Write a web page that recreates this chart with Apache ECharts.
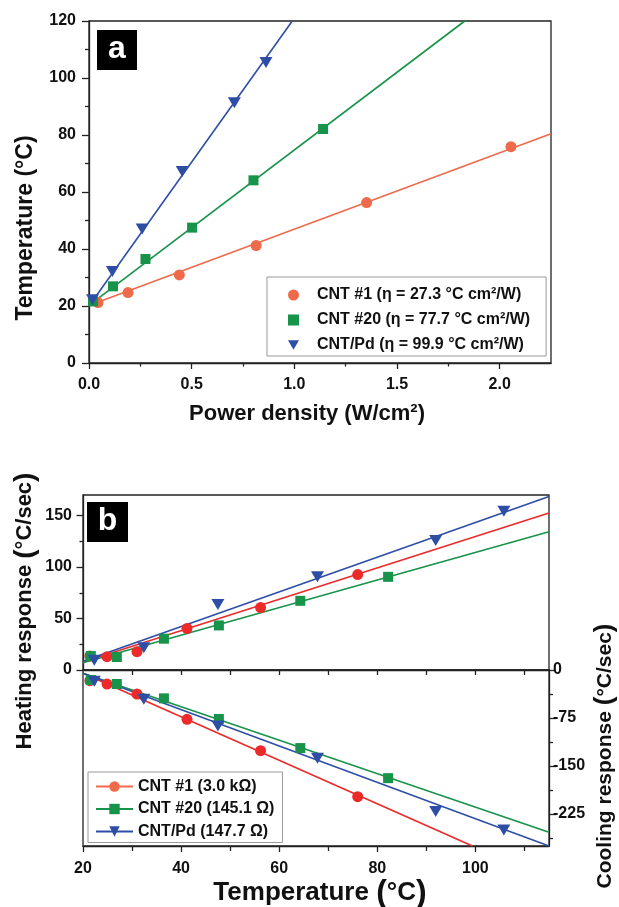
<!DOCTYPE html>
<html><head><meta charset="utf-8">
<script src="https://cdn.jsdelivr.net/npm/echarts@6/dist/echarts.min.js"></script>
<style>html,body{margin:0;padding:0;background:#fff}#c{width:619px;height:907px}</style>
</head><body><div id="c"></div>
<script>
// ---------- Panel a data ----------
const namesA = ['CNT #1 (\u03b7 = 27.3 \u00b0C cm\u00b2/W)', 'CNT #20 (\u03b7 = 77.7 \u00b0C cm\u00b2/W)', 'CNT/Pd (\u03b7 = 99.9 \u00b0C cm\u00b2/W)'];
const powerCNT1 = [0.044, 0.19, 0.44, 0.814, 1.352, 2.055];
const tempCNT1 = [21.2, 24.7, 30.9, 41.2, 56.3, 75.9];
const powerCNT20 = [0.02, 0.117, 0.275, 0.502, 0.801, 1.140];
const tempCNT20 = [21.6, 26.9, 36.5, 47.5, 64.1, 82.1];
const powerPd = [0.017, 0.114, 0.259, 0.454, 0.708, 0.862];
const tempPd = [22.2, 32.1, 47.0, 67.2, 91.3, 105.4];
// fit lines (end points)
const fitA1x = [0, 2.25], fitA1y = [20.2, 80.4];
const fitA20x = [0, 1.83], fitA20y = [20.2, 120];
const fitAPdx = [0, 0.99], fitAPdy = [20, 120];
const aXMajor = [0, 0.5, 1.0, 1.5, 2.0];
const aXMinor = [0.25, 0.75, 1.25, 1.75];
const aYMajor = [0, 20, 40, 60, 80, 100, 120];
const aYMinor = [10, 30, 50, 70, 90, 110];

// ---------- Panel b data ----------
const namesB = ['CNT #1 (3.0 k\u03a9)', 'CNT #20 (145.1 \u03a9)', 'CNT/Pd (147.7 \u03a9)'];
const bTemp1 = [21.4, 24.9, 31.0, 41.2, 56.2, 76.0];
const bTemp20 = [21.6, 26.9, 36.5, 47.7, 64.3, 82.2];
const bTempPd = [22.3, 32.4, 47.5, 67.8, 91.9, 105.8];
const heat1 = [13.6, 12.9, 17.8, 40.4, 60.7, 92.7];
const heat20 = [13.5, 12.6, 30.4, 43.3, 67.2, 90.5];
const heatPd = [9.5, 21.6, 63.6, 90.5, 125.7, 154.1];
const cool1 = [-16.7, -21.9, -37.5, -77, -126, -198];
const cool20 = [-15.6, -21.9, -44.3, -76.6, -122, -169];
const coolPd = [-17.5, -45.8, -87.5, -138, -221, -250];
const fitH1x = [20, 115], fitH1y = [7.8, 152.5];
const fitH20x = [20, 115], fitH20y = [7.1, 134.4];
const fitHPdx = [20, 115], fitHPdy = [8.4, 168.6];
const fitC1x = [20, 99.4], fitC1y = [-5.2, -275];
const fitC20x = [20, 115], fitC20y = [-5.2, -253.6];
const fitCPdx = [20, 115], fitCPdy = [-5, -275];
const bXMajor = [20, 40, 60, 80, 100];
const bXMinor = [30, 50, 70, 90, 110];
const bXMid = [30, 40, 50, 60, 70, 80, 90, 100, 110];
const bHMajor = [0, 50, 100, 150];
const bHMinor = [25, 75, 125];
const bCMajor = [0, -75, -150, -225];
const bCMinor = [-37.5, -112.5, -187.5, -262.5];

// ---------- styling ----------
const FONT = '"Liberation Sans", Arial, Helvetica, sans-serif';
const AX = '#222';
const cA = ['#EF6A4A', '#17934A', '#2E4EA6'];
const cB = ['#EC2A2A', '#17934A', '#2E4EA6'];
const triDown = 'path://M0,0L10,0L5,8.66Z';
const syms = ['circle', 'rect', triDown];
const symSizes = [11, 10, [13, 11]];

const pairs = (xs, ys) => xs.map((x, i) => [x, ys[i]]);
const lbl = (extra) => Object.assign({fontSize: 16, fontWeight: 'bold', fontFamily: FONT, color: '#111'}, extra);
const line = {show: true, onZero: false, lineStyle: {color: AX, width: 1.3}};
const noLine = {show: false, onZero: false};
const tick = (vals, len) => ({show: true, customValues: vals, length: len, lineStyle: {color: AX, width: 1.3}});

function mainAxis(o) {
  return Object.assign({type: 'value', splitLine: {show: false}, axisLine: line}, o);
}
function minorAxis(o, vals, len) {
  return Object.assign({type: 'value', splitLine: {show: false}, axisLine: noLine,
    axisLabel: {show: false}, axisTick: tick(vals, len)}, o);
}

const xAxis = [
  mainAxis({gridIndex: 0, min: 0, max: 2.25, position: 'bottom',
    axisTick: tick(aXMajor, 6),
    axisLabel: lbl({customValues: aXMajor, margin: 14, formatter: v => v.toFixed(1)})}),
  minorAxis({gridIndex: 0, min: 0, max: 2.25, position: 'bottom'}, aXMinor, 3.5),
  mainAxis({gridIndex: 1, min: 20, max: 115, position: 'bottom',
    axisTick: tick(bXMid, 5), axisLabel: {show: false}}),
  mainAxis({gridIndex: 2, min: 20, max: 115, position: 'bottom',
    axisTick: tick(bXMajor, 6),
    axisLabel: lbl({customValues: bXMajor, margin: 15})}),
  minorAxis({gridIndex: 2, min: 20, max: 115, position: 'bottom'}, bXMinor, 5)
];

const yAxis = [
  mainAxis({gridIndex: 0, min: 0, max: 120, position: 'left',
    axisTick: tick(aYMajor, 7),
    axisLabel: lbl({customValues: aYMajor, margin: 13})}),
  minorAxis({gridIndex: 0, min: 0, max: 120, position: 'left'}, aYMinor, 4),
  mainAxis({gridIndex: 1, min: 0, max: 170, position: 'left',
    axisTick: tick(bHMajor, 6.5),
    axisLabel: lbl({customValues: bHMajor, margin: 11})}),
  minorAxis({gridIndex: 1, min: 0, max: 170, position: 'left'}, bHMinor, 3.5),
  mainAxis({gridIndex: 2, min: -275, max: 0, position: 'right',
    axisTick: tick(bCMajor, 7),
    axisLabel: lbl({customValues: bCMajor, margin: 4})}),
  minorAxis({gridIndex: 2, min: -275, max: 0, position: 'right'}, bCMinor, 4)
];

const series = [];
function fit(name, xs, ys, color, xi, yi) {
  series.push({type: 'line', name: name, data: pairs(xs, ys), xAxisIndex: xi, yAxisIndex: yi,
    symbol: 'none', silent: true, z: 2, lineStyle: {color: color, width: 1.6}});
}
function pts(name, xs, ys, k, color, xi, yi) {
  series.push({type: 'scatter', name: name, data: pairs(xs, ys), xAxisIndex: xi, yAxisIndex: yi,
    symbol: syms[k], symbolSize: symSizes[k], z: 3, itemStyle: {color: color, opacity: 1}});
}
// Panel a
fit('fitA1', fitA1x, fitA1y, cA[0], 0, 0);
fit('fitA20', fitA20x, fitA20y, cA[1], 0, 0);
fit('fitAPd', fitAPdx, fitAPdy, cA[2], 0, 0);
pts(namesA[0], powerCNT1, tempCNT1, 0, cA[0], 0, 0);
pts(namesA[1], powerCNT20, tempCNT20, 1, cA[1], 0, 0);
pts(namesA[2], powerPd, tempPd, 2, cA[2], 0, 0);
// Panel b heating
fit('fitH1', fitH1x, fitH1y, cB[0], 2, 2);
fit('fitH20', fitH20x, fitH20y, cB[1], 2, 2);
fit('fitHPd', fitHPdx, fitHPdy, cB[2], 2, 2);
pts('heat1', bTemp1, heat1, 0, cB[0], 2, 2);
pts('heat20', bTemp20, heat20, 1, cB[1], 2, 2);
pts('heatPd', bTempPd, heatPd, 2, cB[2], 2, 2);
// Panel b cooling
fit('fitC1', fitC1x, fitC1y, cB[0], 3, 4);
fit('fitC20', fitC20x, fitC20y, cB[1], 3, 4);
fit('fitCPd', fitCPdx, fitCPdy, cB[2], 3, 4);
pts('cool1', bTemp1, cool1, 0, cB[0], 3, 4);
pts('cool20', bTemp20, cool20, 1, cB[1], 3, 4);
pts('coolPd', bTempPd, coolPd, 2, cB[2], 3, 4);
// legend-only entries for panel b (line + symbol icons)
const legBColors = ['#EF6A4A', '#17934A', '#2E4EA6'];
namesB.forEach((n, k) => series.push({type: 'line', name: n, data: [], xAxisIndex: 3, yAxisIndex: 4,
  symbol: syms[k], itemStyle: {color: legBColors[k]}, lineStyle: {color: legBColors[k], width: 1.6}}));

const gridStyle = {show: true, borderColor: AX, borderWidth: 1.3, backgroundColor: 'transparent',
  containLabel: false, outerBoundsMode: 'none'};
const legText = (fs) => ({fontSize: fs, fontWeight: 'bold', fontFamily: FONT, color: '#111'});
const tStyle = (fs) => ({fontSize: fs, fontWeight: 'bold', fontFamily: FONT, fill: '#111'});
function title(x, y, rot, text, fs, pfs) {
  return {type: 'text', x: x, y: y, rotation: rot, z: 11,
    style: {text: text, align: 'center', verticalAlign: 'middle', rich: {n: tStyle(fs), p: tStyle(pfs)}}};
}

const chart = echarts.init(document.getElementById('c'), null, {renderer: 'canvas'});
chart.setOption({
  animation: false,
  backgroundColor: '#fff',
  grid: [
    Object.assign({left: 89, top: 21, width: 462, height: 342}, gridStyle),
    Object.assign({left: 83, top: 495, width: 466, height: 175}, gridStyle),
    Object.assign({left: 83, top: 670, width: 466, height: 176}, gridStyle)
  ],
  xAxis: xAxis,
  yAxis: yAxis,
  legend: [
    {data: namesA, orient: 'vertical', left: 267, top: 277, padding: [10, 16, 3, 21],
     itemWidth: 11, itemHeight: 11, itemGap: 9, borderColor: '#999', borderWidth: 1,
     selectedMode: false, textStyle: Object.assign(legText(16), {padding: [0, 0, 0, 13]})},
    {data: namesB, orient: 'vertical', left: 88, top: 772, padding: [6.5, 8, 3, 7],
     itemWidth: 37, itemHeight: 13, itemGap: 6.5, borderColor: '#999', borderWidth: 1,
     selectedMode: false, textStyle: legText(16)}
  ],
  graphic: [
    {type: 'rect', left: 97, top: 30, shape: {width: 40, height: 40}, style: {fill: '#000'}, z: 10},
    {type: 'text', x: 117, y: 49, z: 11, style: {text: 'a', fill: '#fff', fontSize: 32, fontWeight: 'bold', fontFamily: FONT, align: 'center', verticalAlign: 'middle'}},
    {type: 'rect', left: 87, top: 502, shape: {width: 41, height: 40}, style: {fill: '#000'}, z: 10},
    {type: 'text', x: 107.5, y: 521, z: 11, style: {text: 'b', fill: '#fff', fontSize: 32, fontWeight: 'bold', fontFamily: FONT, align: 'center', verticalAlign: 'middle'}},
    title(26, 228, Math.PI / 2, '{n|Temperature (\u00b0C)}', 23, 23),
    title(307, 414, 0, '{n|Power density (W/cm\u00b2)}', 22, 22),
    title(320, 893, 0, '{n|Temperature }{p|(}{n|\u00b0C}{p|)}', 26, 32),
    title(25, 611, Math.PI / 2, '{n|Heating response }{p|(}{n|\u00b0C/sec}{p|)}', 22, 28),
    title(605, 756, Math.PI / 2, '{n|Cooling response }{p|(}{n|\u00b0C/sec}{p|)}', 21, 26)
  ],
  series: series
});
</script>
</body></html>
